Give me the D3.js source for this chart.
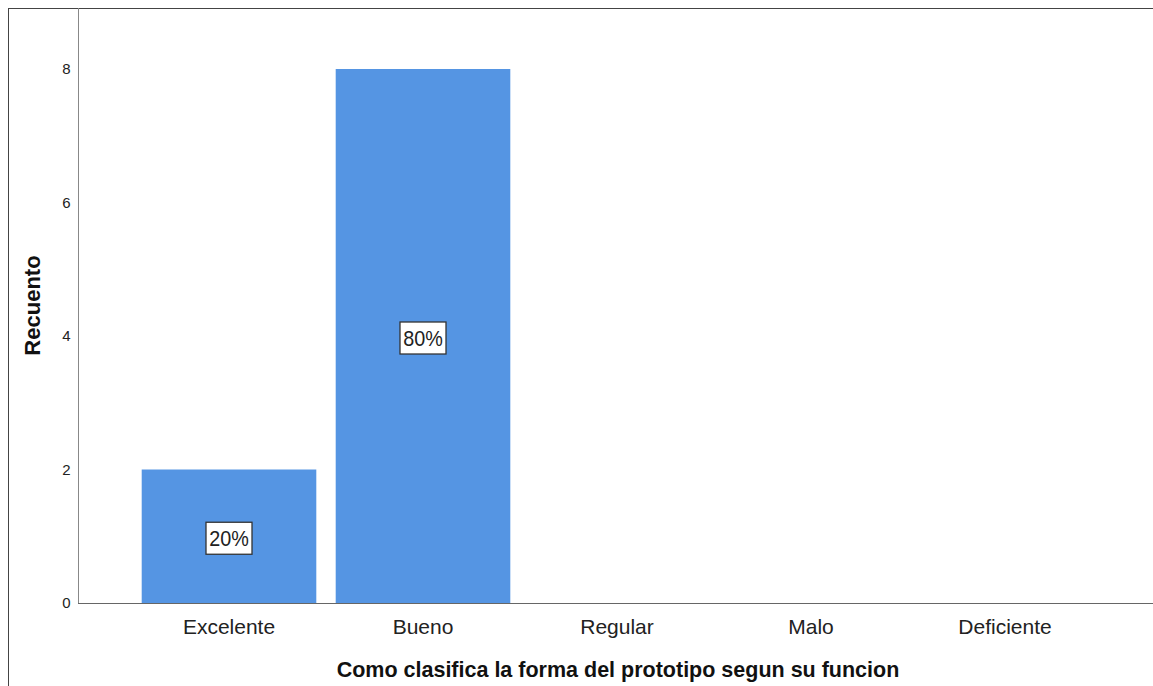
<!DOCTYPE html>
<html>
<head>
<meta charset="utf-8">
<script src="https://cdn.jsdelivr.net/npm/d3@7"></script>
<style>
  body { margin: 0; background: #fff; }
  svg { display: block; font-family: Arial, "Liberation Sans", sans-serif; }
</style>
</head>
<body>
<svg id="chart" width="1153" height="686"></svg>
<script>
// Frequencies per rating category
const categories = ["Excelente", "Bueno", "Regular", "Malo", "Deficiente"];
const counts = [2, 8, 0, 0, 0];
const percentLabels = ["20%", "80%", null, null, null];
const yTicks = [0, 2, 4, 6, 8];

const svg = d3.select("#chart");
const W = 1153, H = 686;
const plotLeft = 78, plotRight = 1153, plotTop = 8, plotBottom = 603;
const FONT = "Arial, 'Liberation Sans', sans-serif";

const x = d3.scaleBand()
  .domain(categories)
  .range([132, 1102])
  .paddingInner(0.1)
  .paddingOuter(0.05);

const y = d3.scaleLinear()
  .domain([0, 8.914])
  .range([plotBottom, plotTop]);

// Outer frame lines
svg.append("line").attr("x1", 8.5).attr("x2", 8.5).attr("y1", 8).attr("y2", H)
  .attr("stroke", "#444").attr("stroke-width", 1);
svg.append("line").attr("x1", 8).attr("x2", W).attr("y1", 8.5).attr("y2", 8.5)
  .attr("stroke", "#444").attr("stroke-width", 1);

// Bars
const data = categories.map((c, i) => ({ cat: c, v: counts[i], label: percentLabels[i] }));
svg.append("g").selectAll("rect")
  .data(data.filter(d => d.v > 0))
  .join("rect")
  .attr("x", d => x(d.cat))
  .attr("width", x.bandwidth())
  .attr("y", d => y(d.v))
  .attr("height", d => y(0) - y(d.v))
  .attr("fill", "#5595e3");

// Y axis
const yAxis = svg.append("g")
  .attr("transform", `translate(${plotLeft + 0.5},0)`)
  .call(d3.axisLeft(y).tickValues(yTicks).tickSize(0).tickPadding(8).tickFormat(d3.format("d")));
yAxis.select(".domain").attr("stroke", "#888").attr("d", `M0,${plotTop}V${plotBottom}`);
yAxis.selectAll("text").attr("font-size", 15).attr("fill", "#222").attr("font-family", FONT);

// X axis
const xAxis = svg.append("g")
  .attr("transform", `translate(0,${plotBottom + 0.5})`)
  .call(d3.axisBottom(x).tickSize(0).tickPadding(16));
xAxis.select(".domain").attr("stroke", "#666").attr("d", `M${plotLeft},0H${plotRight}`);
xAxis.selectAll("text").attr("font-size", 21).attr("fill", "#222").attr("font-family", FONT);

// Percentage labels in boxes, centred at half the bar height
const lbl = svg.append("g").selectAll("g")
  .data(data.filter(d => d.label))
  .join("g")
  .attr("transform", d => `translate(${x(d.cat) + x.bandwidth() / 2},${y(d.v / 2) + 2})`);
lbl.append("rect")
  .attr("x", -23).attr("y", -16).attr("width", 46).attr("height", 32)
  .attr("fill", "#fff").attr("stroke", "#333").attr("stroke-width", 1.3);
lbl.append("text")
  .attr("text-anchor", "middle").attr("dy", "0.36em")
  .attr("transform", "scale(0.9,1)")
  .attr("font-size", 22).attr("fill", "#222")
  .text(d => d.label);

// Axis titles
svg.append("text")
  .attr("transform", `translate(40,${(plotTop + plotBottom) / 2}) rotate(-90)`)
  .attr("text-anchor", "middle")
  .attr("font-size", 22).attr("font-weight", "bold").attr("fill", "#111")
  .text("Recuento");
svg.append("text")
  .attr("x", 618).attr("y", 677)
  .attr("text-anchor", "middle")
  .attr("font-size", 21.5).attr("font-weight", "bold").attr("fill", "#111")
  .text("Como clasifica la forma del prototipo segun su funcion");
</script>
</body>
</html>
